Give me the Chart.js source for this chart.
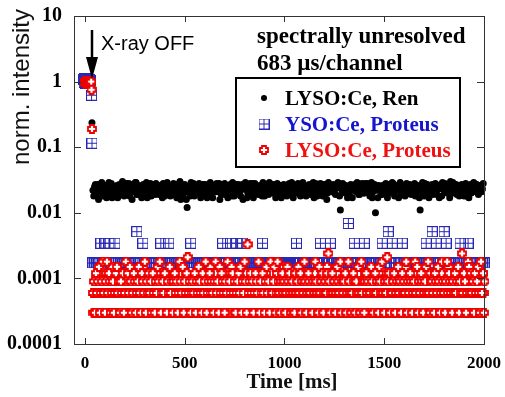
<!DOCTYPE html>
<html><head><meta charset="utf-8">
<script src="https://cdn.jsdelivr.net/npm/chart.js@4.4.1/dist/chart.umd.min.js"></script>
<style>html,body{margin:0;padding:0;background:#fff}#wrap{width:505px;height:397px}</style>
</head><body><div id="wrap"><canvas id="c" width="505" height="397"></canvas></div>
<script>
// ---- tick labels ----
const xTickValues = [0, 500, 1000, 1500, 2000];
const yTickValues = [0.0001, 0.001, 0.01, 0.1, 1, 10];
const yTickLabels = ['0.0001', '0.001', '0.01', '0.1', '1', '10'];
const seriesNames = ['LYSO:Ce, Ren', 'YSO:Ce, Proteus', 'LYSO:Ce, Proteus'];

// ---- LYSO:Ce, Ren (black) ----
const blackHeadT = [-4, 0, 4, 8, 12, 16, 20, 24, 28, 35];
const blackHeadV = [1.02, 0.99, 1.03, 1.0, 0.98, 1.01, 1.0, 0.99, 0.97, 0.235];
const blackUnit = 0.001;
// channels starting at 40 ms, every 8 ms
const blackTailStartA = 40, blackTailStep = 8;
const blackTailA = [
22,25,19,27,21,24,18,23,26,20, 29,22,17,24,21,26,23,19,25,22,
20,28,24,18,22,27,21,29,19,23, 24,20,26,22,17,25,28,21,23,19,
22,26,20,24,28,18,23,21,25,22, 19,24,27,22,20,16,25,23,21,12,
23,18,22,28,24,20,25,21,22,27, 20,24,19,26,22,17,23,25,21,28,
24,21,26,19,23,22,27,18,25,20, 22,27,21,24,16,23,26,20,25,19,
28,22,24,20,23,26,18,22,25,21, 19,25,23,27,21,24,20,26,17,23,
25,20,22,28,19,24,23,21,26,22, 18,24,27,21,23,20,25,22,29,19,
23,26,21,24,18,22,27,20,25,23, 21,25,19,24,28,11,22,26,20,23,
24,18,25,22,27,21,23,19,26,22, 20,24,28,21,23,17,25,10,22,26,
23,19,24,27,21,25,20,22,28,18, 24,22,26,20,23,25,19,27,21,24,
22,26,18,23,25,11,21,24,28,20, 25,21,23,19,26,22,24,17,27,29,
22,25,20,24,30,21,26,23,19,25, 23,27,21,24,18,22,26,20,25,28,
21,24,22,26,23];
// interleaved channels starting at 44 ms, every 8 ms
const blackTailStartB = 44;
const blackTailB = [
18,27,23,16,25,29,20,24,17,26, 21,28,19,25,23,17,27,22,30,18,
25,20,28,23,16,24,29,19,26,21, 17,27,22,29,20,25,18,26,24,28,
26,19,24,17,27,21,29,23,18,25, 28,22,17,26,30,23,19,27,16,24,
20,29,25,18,26,22,28,17,27,21, 27,17,23,29,19,26,21,28,24,16,
19,26,28,21,17,25,23,29,18,27, 25,21,18,27,23,29,17,24,28,20,
17,28,26,19,24,22,29,18,27,23, 29,23,20,26,17,28,24,21,19,27,
22,18,27,24,29,17,26,20,28,25, 26,29,21,18,25,27,19,23,17,28,
18,24,28,22,27,20,16,29,23,26, 27,20,25,29,18,24,28,21,26,17,
21,27,17,26,23,29,19,25,28,20, 28,23,26,18,29,21,27,24,17,25,
19,26,22,28,17,27,24,29,20,23, 26,17,29,21,25,18,28,23,27,19,
23,28,20,26,17,24,29,18,25,27, 17,25,27,22,28,19,23,26,18,28,
28,21,24,17,26,29,20,27,23,18, 20,26,18,28,24,17,27,22,29,25,
27,19,25,21,28];

// ---- YSO:Ce, Proteus (blue) ----
const blueHeadT = [-5, -3, -1, 1, 3, 5, 7, 9, 11, 13, 15, 17, 19, 21, 23, 25, 27, 29, 33, 35];
const blueHeadV = [1.08, 0.97, 1.1, 1.0, 0.95, 1.06, 1.12, 0.98, 1.03, 0.96, 1.1, 1.0, 1.05, 0.97, 1.08, 0.99, 1.04, 0.93, 0.62, 0.115];
const blueTailStart = 40, blueTailStep = 10, blueUnit = 0.00172;
const blueTail = [
1,1,1,1,2,1,2,1,2,1,0,2,1,1,1,1,1,1,1,1,
1,1,3,1,1,2,1,1,1,1,0,1,1,1,2,1,1,1,2,1,
1,1,1,1,1,0,1,1,1,2,1,1,1,1,1,1,1,1,0,1,
1,1,1,1,1,2,1,1,1,2,1,1,2,1,1,2,1,1,1,1,
1,1,1,1,1,2,1,1,1,1,0,1,1,1,1,1,1,1,1,1,
1,1,2,1,1,1,1,1,1,1,0,1,1,1,2,1,1,1,1,2,
1,1,1,1,1,0,1,1,4,1,1,2,1,1,1,1,2,1,1,1,
0,1,1,1,1,2,1,1,3,1,2,1,1,1,1,2,1,1,1,1,
0,1,1,1,1,1,1,2,1,1,3,1,2,1,1,1,3,2,1,1,
0,1,1,1,2,1,1,1,2,1,1,1,1,0,1,1,1];

// ---- LYSO:Ce, Proteus (red) ----
const redHeadT = [-2, 0, 2, 4, 6, 8, 10, 12, 14, 16, 18, 20, 22, 24, 26, 28, 31, 33, 35];
const redHeadV = [0.97, 1.02, 0.95, 1.0, 0.93, 0.98, 1.03, 0.96, 1.0, 0.94, 0.99, 1.01, 0.95, 0.98, 0.92, 1.0, 1.0, 0.75, 0.19];
const redUnit = 0.0003, redTailStep = 5;
const redTailStartA = 40;
const redTailA = [
2,3,1,4,2,3,5,1,2,3,6,2,1,3,6,2,4,3,1,2,
3,1,2,4,5,2,3,1,3,2,4,1,2,6,0,4,2,5,3,1,
2,4,3,1,2,3,5,2,1,4,3,2,6,1,3,2,4,2,3,1,
4,2,1,3,2,5,3,6,1,2,3,2,4,0,1,3,2,5,2,3,
1,3,4,2,3,1,2,6,3,2,5,1,3,2,4,7,2,3,1,2,
3,2,4,1,3,2,5,3,2,1,4,2,3,6,1,2,3,4,2,3,
2,1,3,6,2,3,1,5,2,4,3,2,1,3,2,6,0,3,2,5,
4,2,3,1,2,3,4,2,5,1,3,2,6,3,1,11,2,3,4,2,
3,1,2,4,3,2,6,1,3,2,4,2,1,3,5,2,3,1,6,2,
2,3,5,1,2,6,3,2,1,3,4,2,3,1,2,5,3,4,2,1,
3,2,1,4,2,3,5,2,4,1,3,2,6,3,1,2,4,3,2,0,
1,3,2,6,3,2,1,5,2,3,4,1,2,3,2,4,8,3,1,2,
4,2,3,1,2,5,3,2,6,1,3,2,3,4,1,2,6,3,2,1,
2,4,3,1,3,2,5,2,1,6,2,3,1,3,4,2,3,0,2,5,
3,1,2,4,2,3,1,5,3,2,6,2,1,3,2,7,3,4,1,2,
2,3,4,1,2,3,5,2,3,1,4,2,3,2,6,1,3,2,4,3,
1,2,3,6,2,5,1,3,2,4,3,1,2,3,5,2,6,2,1,3,
3,2,1,4,3,2,5,3,1,2,6,3,2,1,3,6,2,4,3,2,
1,3,2,4,2,3,5,1,3,2,8,2,4,3,1,2,6,5,2,4,
2,3,1,4,2,3,5,2,1,6,2,4,1];
const redTailStartB = 42.5;
const redTailB = [
1,2,1,3,2,1,4,2,1,2,3,1,2,4,1,2,3,1,2,5,
2,1,3,2,1,2,4,1,3,2,1,2,1,3,2,4,1,2,3,1,
1,3,2,1,4,2,1,2,3,1,5,2,1,3,2,1,2,4,1,2,
3,1,2,4,1,2,3,2,1,2,1,3,4,2,1,2,3,1,2,1,
2,4,1,2,3,1,2,1,5,2,3,1,2,4,1,2,1,3,2,1,
1,2,3,1,2,4,1,3,2,1,2,3,1,2,4,2,1,5,2,3,
2,1,4,2,1,3,2,1,2,3,1,4,2,1,2,3,2,1,3,2,
4,2,1,3,2,1,2,5,1,2,3,1,2,4,2,1,3,2,1,2,
1,3,2,1,2,4,1,2,3,2,1,2,1,4,3,2,1,2,6,1,
2,1,3,2,4,1,2,1,3,2,1,5,2,1,3,2,4,1,2,3,
3,2,1,2,1,4,2,3,1,2,4,1,2,3,2,1,2,1,4,2,
1,2,4,1,3,2,1,2,3,1,2,4,1,2,5,3,1,2,1,3,
2,3,1,2,4,1,2,3,1,2,1,3,2,4,1,2,3,2,1,2,
4,1,2,3,1,2,5,1,2,3,2,1,4,2,1,3,2,1,2,4,
1,2,3,1,2,1,4,2,3,1,2,1,3,2,4,1,2,3,1,2,
2,4,1,2,3,2,1,3,1,2,4,2,1,5,2,1,3,2,1,3,
3,1,2,1,4,2,3,1,2,3,1,2,4,1,2,3,1,2,4,1,
1,2,4,3,1,2,1,2,3,4,1,2,3,1,2,1,5,2,3,1,
2,1,3,2,1,4,2,1,2,3,1,2,4,1,3,2,1,2,3,2,
1,3,2,4,1,2,3,1,2,1,4,2,3];

// ---- build points ----
function headPts(T, V) { return T.map((t, i) => ({x: t, y: V[i]})); }
function tailPts(t0, step, vals, unit) {
  const out = [];
  vals.forEach((v, i) => { if (v > 0) out.push({x: t0 + i * step, y: v * unit}); });
  return out;
}
const blackData = headPts(blackHeadT, blackHeadV)
  .concat(tailPts(blackTailStartA, blackTailStep, blackTailA, blackUnit))
  .concat(tailPts(blackTailStartB, blackTailStep, blackTailB, blackUnit));
const blueData = headPts(blueHeadT, blueHeadV).concat(tailPts(blueTailStart, blueTailStep, blueTail, blueUnit));
const redData = headPts(redHeadT, redHeadV)
  .concat(tailPts(redTailStartB, redTailStep, redTailB, redUnit))
  .concat(tailPts(redTailStartA, redTailStep, redTailA, redUnit));

// ---- marker glyphs ----
function makeBlue() {
  const c = document.createElement('canvas'); c.width = 11; c.height = 11;
  const g = c.getContext('2d');
  g.strokeStyle = '#2828b4'; g.lineWidth = 1;
  g.strokeRect(0.5, 0.5, 10, 10);
  g.beginPath(); g.moveTo(5.5, 0.5); g.lineTo(5.5, 10.5); g.moveTo(0.5, 5.5); g.lineTo(10.5, 5.5); g.stroke();
  return c;
}
function makeRed() {
  const c = document.createElement('canvas'); c.width = 10; c.height = 10;
  const g = c.getContext('2d');
  const a = 3, b = 7;
  g.beginPath();
  g.moveTo(a, 1); g.lineTo(b, 1); g.lineTo(b, a); g.lineTo(9, a); g.lineTo(9, b); g.lineTo(b, b);
  g.lineTo(b, 9); g.lineTo(a, 9); g.lineTo(a, b); g.lineTo(1, b); g.lineTo(1, a); g.lineTo(a, a); g.closePath();
  g.fillStyle = '#fff'; g.fill();
  g.strokeStyle = '#ee0000'; g.lineWidth = 1.8; g.stroke();
  return c;
}
const blueMark = makeBlue(), redMark = makeRed();

const SERIF = '"Liberation Serif", "Times New Roman", serif';
const SANS = '"Liberation Sans", Arial, sans-serif';

const deco = {
  id: 'deco',
  afterDraw(chart) {
    const {ctx, chartArea: a, scales: {x, y}} = chart;
    ctx.save();
    // frame
    ctx.strokeStyle = '#333'; ctx.lineWidth = 1;
    ctx.strokeRect(a.left + 0.5, a.top + 0.5, a.right - a.left, a.bottom - a.top);
    // inward ticks on all four sides
    ctx.beginPath();
    xTickValues.forEach(v => {
      const px = Math.round(x.getPixelForValue(v)) + 0.5;
      ctx.moveTo(px, a.bottom); ctx.lineTo(px, a.bottom - 6);
      ctx.moveTo(px, a.top); ctx.lineTo(px, a.top + 6);
    });
    yTickValues.forEach(v => {
      const py = Math.round(y.getPixelForValue(v)) + 0.5;
      ctx.moveTo(a.left, py); ctx.lineTo(a.left + 7, py);
      ctx.moveTo(a.right, py); ctx.lineTo(a.right - 7, py);
    });
    ctx.stroke();

    // axis titles
    ctx.fillStyle = '#111';
    ctx.font = '24px ' + SANS;
    ctx.textAlign = 'center'; ctx.textBaseline = 'middle';
    ctx.save(); ctx.translate(22, 87); ctx.rotate(-Math.PI / 2);
    ctx.fillText('norm. intensity', 0, 0); ctx.restore();
    ctx.font = 'bold 21px ' + SERIF; ctx.textBaseline = 'alphabetic';
    ctx.fillText('Time [ms]', 292, 388);

    // arrow + X-ray OFF
    ctx.strokeStyle = '#000'; ctx.lineWidth = 2.5;
    ctx.beginPath(); ctx.moveTo(92, 30); ctx.lineTo(92, 60); ctx.stroke();
    ctx.fillStyle = '#000';
    ctx.beginPath(); ctx.moveTo(86, 57); ctx.lineTo(98, 57); ctx.lineTo(92, 79); ctx.closePath(); ctx.fill();
    ctx.font = '20px ' + SANS; ctx.textAlign = 'left';
    ctx.fillText('X-ray OFF', 101, 50);

    // annotation
    ctx.font = 'bold 23px ' + SERIF;
    ctx.fillText('spectrally unresolved', 257, 43);
    ctx.fillText('683 \u00b5s/channel', 257, 70);

    // legend
    ctx.fillStyle = '#fff'; ctx.fillRect(236, 78, 224, 89);
    ctx.strokeStyle = '#000'; ctx.lineWidth = 2;
    ctx.strokeRect(236, 78, 224, 89);
    const rows = [98, 124, 150];
    const cols = ['#000', '#1515d0', '#f01010'];
    ctx.fillStyle = '#000';
    ctx.beginPath(); ctx.arc(264, rows[0], 3, 0, Math.PI * 2); ctx.fill();
    ctx.drawImage(blueMark, 264 - 5.5, rows[1] - 5.5);
    ctx.drawImage(redMark, 264 - 5, rows[2] - 5);
    ctx.font = 'bold 21px ' + SERIF; ctx.textBaseline = 'alphabetic';
    seriesNames.forEach((n, i) => { ctx.fillStyle = cols[i]; ctx.fillText(n, 285, rows[i] + 7); });
    ctx.restore();
  }
};

new Chart(document.getElementById('c'), {
  type: 'scatter',
  data: {
    datasets: [
      {label: seriesNames[0], data: blackData, order: 3, pointStyle: 'circle', pointRadius: 3.5,
       backgroundColor: '#000', borderColor: '#000', borderWidth: 0, clip: false},
      {label: seriesNames[1], data: blueData, order: 2, pointStyle: blueMark, pointRadius: 5, clip: false},
      {label: seriesNames[2], data: redData, order: 1, pointStyle: redMark, pointRadius: 5, clip: false}
    ]
  },
  options: {
    responsive: false, animation: false, events: [], devicePixelRatio: 1,
    layout: {padding: {top: 16, right: 21, left: 0, bottom: 0}},
    plugins: {legend: {display: false}, tooltip: {enabled: false}},
    scales: {
      x: {
        type: 'linear', min: -55, max: 2000,
        grid: {display: false, drawTicks: false}, border: {display: false},
        afterBuildTicks: s => { s.ticks = xTickValues.map(v => ({value: v})); },
        afterFit: s => { s.height = 53; s.paddingLeft = 0; s.paddingRight = 0; },
        ticks: {padding: 9, color: '#000', font: {family: SERIF, size: 17, weight: 'bold'}, maxRotation: 0,
          callback: v => String(v)}
      },
      y: {
        type: 'logarithmic', min: 0.0001, max: 10,
        grid: {display: false, drawTicks: false}, border: {display: false},
        afterBuildTicks: s => { s.ticks = yTickValues.map(v => ({value: v})); },
        afterFit: s => { s.width = 74; s.paddingTop = 0; s.paddingBottom = 0; },
        ticks: {padding: 12, color: '#000', font: {family: SERIF, size: 20, weight: 'bold'},
          callback: (v, i) => yTickLabels[i]}
      }
    }
  },
  plugins: [deco]
});
</script></body></html>
